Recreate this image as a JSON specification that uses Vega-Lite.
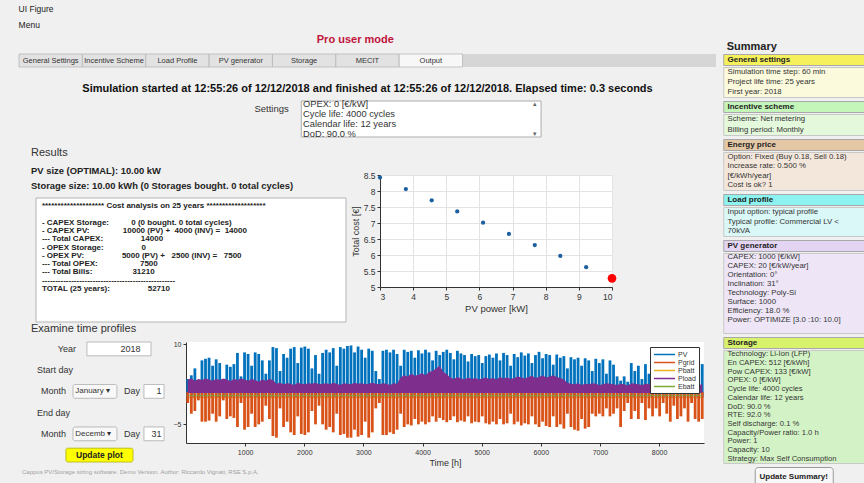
{
  "$schema": "https://vega.github.io/schema/vega-lite/v6.json",
  "padding": {"left": 18, "top": 4, "right": 0, "bottom": 0},
  "background": "#f0f0f0",
  "title": {"text": "UI Figure", "subtitle": "Menu", "anchor": "start", "fontSize": 8.5, "fontWeight": "normal", "subtitleFontSize": 8.5, "subtitlePadding": 8, "color": "#222", "subtitleColor": "#222", "offset": 4},
  "config": {
    "font": "Liberation Sans",
    "view": {"stroke": null},
    "axis": {"labelFontSize": 7.5, "titleFontSize": 9, "titleFontWeight": "normal", "labelColor": "#333", "titleColor": "#333", "domainColor": "#333", "tickColor": "#333", "gridColor": "#e3e3e3", "tickSize": 3, "labelPadding": 2, "titlePadding": 3}
  },
  "resolve": {"scale": {"color": "independent"}, "legend": {"color": "independent"}},
  "datasets": {
    "ts": [
      {"t":30,"pv":3.5,"g":-1.0,"l":3.4},{"t":90,"pv":4.2,"g":-3.0,"l":3.6},{"t":150,"pv":5.5,"g":-2.5,"l":3.2},{"t":210,"pv":3.0,"g":-0.5,"l":3.5},
      {"t":270,"pv":7.0,"g":-4.5,"l":3.3},{"t":330,"pv":7.3,"g":-4.5,"l":3.6},{"t":390,"pv":7.5,"g":-4.3,"l":3.4},{"t":450,"pv":6.0,"g":-3.0,"l":3.2},
      {"t":510,"pv":7.2,"g":-4.5,"l":3.5},{"t":570,"pv":6.5,"g":-3.5,"l":3.3},{"t":630,"pv":3.5,"g":-0.5,"l":3.6},{"t":690,"pv":6.2,"g":-4.0,"l":3.4},
      {"t":750,"pv":5.8,"g":-3.5,"l":3.1},{"t":810,"pv":6.3,"g":-3.8,"l":3.5},{"t":870,"pv":8.4,"g":-5.5,"l":3.3},{"t":930,"pv":4.0,"g":-1.0,"l":3.6},
      {"t":990,"pv":8.5,"g":-6.0,"l":3.4},{"t":1050,"pv":8.2,"g":-5.5,"l":3.2},{"t":1110,"pv":6.0,"g":-3.0,"l":3.5},{"t":1170,"pv":8.5,"g":-5.5,"l":3.3},
      {"t":1230,"pv":8.2,"g":-5.0,"l":3.0},{"t":1290,"pv":7.0,"g":-4.5,"l":3.4},{"t":1350,"pv":4.5,"g":-1.5,"l":3.2},{"t":1410,"pv":7.0,"g":-4.0,"l":3.5},
      {"t":1470,"pv":9.5,"g":-7.2,"l":3.3},{"t":1530,"pv":9.3,"g":-7.5,"l":2.6},{"t":1590,"pv":5.0,"g":-2.0,"l":2.8},{"t":1650,"pv":8.2,"g":-5.5,"l":2.5},
      {"t":1710,"pv":7.5,"g":-4.5,"l":2.7},{"t":1770,"pv":9.2,"g":-6.5,"l":2.6},{"t":1830,"pv":9.5,"g":-7.0,"l":2.4},{"t":1890,"pv":6.5,"g":-3.5,"l":2.8},
      {"t":1950,"pv":9.4,"g":-6.8,"l":2.6},{"t":2010,"pv":9.6,"g":-7.0,"l":2.5},{"t":2070,"pv":9.2,"g":-6.5,"l":2.7},{"t":2130,"pv":5.5,"g":-2.5,"l":2.6},
      {"t":2190,"pv":8.0,"g":-5.0,"l":2.8},{"t":2250,"pv":4.5,"g":-1.5,"l":2.5},{"t":2310,"pv":8.4,"g":-5.0,"l":2.6},{"t":2370,"pv":9.0,"g":-6.0,"l":2.7},
      {"t":2430,"pv":8.5,"g":-5.5,"l":2.5},{"t":2490,"pv":9.3,"g":-6.5,"l":2.8},{"t":2550,"pv":6.0,"g":-3.0,"l":2.6},{"t":2610,"pv":9.5,"g":-7.0,"l":2.4},
      {"t":2670,"pv":9.2,"g":-6.8,"l":2.7},{"t":2730,"pv":9.7,"g":-7.5,"l":2.6},{"t":2790,"pv":9.8,"g":-7.5,"l":2.5},{"t":2850,"pv":8.5,"g":-6.0,"l":2.8},
      {"t":2910,"pv":9.6,"g":-7.3,"l":2.6},{"t":2970,"pv":9.0,"g":-7.0,"l":2.7},{"t":3030,"pv":7.5,"g":-4.5,"l":2.5},{"t":3090,"pv":9.2,"g":-7.5,"l":2.6},
      {"t":3150,"pv":8.8,"g":-6.5,"l":2.8},{"t":3210,"pv":5.0,"g":-2.0,"l":2.6},{"t":3270,"pv":3.5,"g":-1.0,"l":2.5},{"t":3330,"pv":8.8,"g":-7.0,"l":2.7},
      {"t":3390,"pv":9.0,"g":-7.0,"l":2.6},{"t":3450,"pv":8.5,"g":-6.5,"l":2.4},{"t":3510,"pv":9.0,"g":-6.8,"l":2.7},{"t":3570,"pv":8.2,"g":-6.0,"l":2.6},
      {"t":3630,"pv":6.0,"g":-3.0,"l":3.8},{"t":3690,"pv":9.0,"g":-5.5,"l":4.2},{"t":3750,"pv":8.6,"g":-5.0,"l":4.0},{"t":3810,"pv":8.8,"g":-5.2,"l":4.5},
      {"t":3870,"pv":7.5,"g":-4.0,"l":4.1},{"t":3930,"pv":8.9,"g":-5.0,"l":4.3},{"t":3990,"pv":8.3,"g":-4.5,"l":4.6},{"t":4050,"pv":9.0,"g":-5.0,"l":4.2},
      {"t":4110,"pv":8.5,"g":-4.6,"l":4.8},{"t":4170,"pv":7.0,"g":-3.5,"l":5.0},{"t":4230,"pv":8.8,"g":-4.5,"l":5.5},{"t":4290,"pv":8.0,"g":-3.8,"l":6.0},
      {"t":4350,"pv":8.6,"g":-4.2,"l":4.8},{"t":4410,"pv":9.0,"g":-4.6,"l":4.4},{"t":4470,"pv":8.4,"g":-4.2,"l":3.8},{"t":4530,"pv":7.2,"g":-3.5,"l":3.5},
      {"t":4590,"pv":8.8,"g":-4.6,"l":3.9},{"t":4650,"pv":8.3,"g":-4.3,"l":3.6},{"t":4710,"pv":8.0,"g":-4.5,"l":3.4},{"t":4770,"pv":6.8,"g":-3.5,"l":3.8},
      {"t":4830,"pv":8.2,"g":-4.8,"l":3.5},{"t":4890,"pv":7.8,"g":-4.5,"l":3.7},{"t":4950,"pv":8.0,"g":-4.6,"l":3.4},{"t":5010,"pv":6.5,"g":-3.5,"l":3.6},
      {"t":5070,"pv":7.8,"g":-4.8,"l":3.8},{"t":5130,"pv":8.1,"g":-5.0,"l":3.5},{"t":5190,"pv":7.5,"g":-4.5,"l":3.7},{"t":5250,"pv":8.3,"g":-5.0,"l":3.4},
      {"t":5310,"pv":7.0,"g":-4.0,"l":3.9},{"t":5370,"pv":8.4,"g":-5.0,"l":3.6},{"t":5430,"pv":8.0,"g":-4.8,"l":3.8},{"t":5490,"pv":6.0,"g":-3.0,"l":3.5},
      {"t":5550,"pv":8.2,"g":-5.0,"l":3.7},{"t":5610,"pv":7.6,"g":-4.5,"l":4.0},{"t":5670,"pv":8.5,"g":-5.2,"l":3.8},{"t":5730,"pv":7.9,"g":-4.8,"l":3.6},
      {"t":5790,"pv":8.3,"g":-5.0,"l":3.9},{"t":5850,"pv":6.5,"g":-3.5,"l":4.1},{"t":5910,"pv":8.0,"g":-5.0,"l":3.7},{"t":5970,"pv":8.6,"g":-5.5,"l":3.9},
      {"t":6030,"pv":7.4,"g":-4.5,"l":4.2},{"t":6090,"pv":8.2,"g":-5.3,"l":3.8},{"t":6150,"pv":8.0,"g":-5.5,"l":4.0},{"t":6210,"pv":6.2,"g":-3.5,"l":4.2},
      {"t":6270,"pv":8.1,"g":-5.5,"l":3.9},{"t":6330,"pv":7.5,"g":-5.0,"l":3.7},{"t":6390,"pv":7.8,"g":-5.8,"l":3.4},{"t":6450,"pv":5.5,"g":-3.0,"l":2.8},
      {"t":6510,"pv":7.6,"g":-5.5,"l":2.6},{"t":6570,"pv":7.2,"g":-6.0,"l":2.5},{"t":6630,"pv":7.5,"g":-6.2,"l":2.7},{"t":6690,"pv":6.0,"g":-4.0,"l":2.4},
      {"t":6750,"pv":7.4,"g":-5.8,"l":2.6},{"t":6810,"pv":7.0,"g":-5.5,"l":2.5},{"t":6870,"pv":5.0,"g":-3.0,"l":2.7},{"t":6930,"pv":7.3,"g":-3.5,"l":2.6},
      {"t":6990,"pv":6.5,"g":-3.0,"l":2.4},{"t":7050,"pv":7.2,"g":-3.5,"l":2.5},{"t":7110,"pv":4.5,"g":-2.0,"l":2.7},{"t":7170,"pv":7.0,"g":-3.5,"l":2.6},
      {"t":7230,"pv":6.2,"g":-3.0,"l":2.5},{"t":7290,"pv":4.0,"g":-2.0,"l":2.4},{"t":7350,"pv":3.2,"g":-5.5,"l":2.6},{"t":7410,"pv":4.0,"g":-2.5,"l":2.5},
      {"t":7470,"pv":3.0,"g":-1.0,"l":2.3},{"t":7530,"pv":6.5,"g":-4.0,"l":2.7},{"t":7590,"pv":5.0,"g":-2.5,"l":2.6},{"t":7650,"pv":6.0,"g":-4.0,"l":2.5},
      {"t":7710,"pv":3.5,"g":-1.0,"l":2.4},{"t":7770,"pv":6.3,"g":-4.2,"l":2.6},{"t":7830,"pv":4.5,"g":-2.0,"l":2.5},{"t":7890,"pv":5.2,"g":-3.5,"l":2.7},
      {"t":7950,"pv":4.0,"g":-2.0,"l":2.4},{"t":8010,"pv":5.0,"g":-3.5,"l":2.6},{"t":8070,"pv":3.2,"g":-1.0,"l":2.5},{"t":8130,"pv":4.8,"g":-3.0,"l":2.3},
      {"t":8190,"pv":6.5,"g":-4.5,"l":2.6},{"t":8250,"pv":3.8,"g":-1.5,"l":2.5},{"t":8310,"pv":6.0,"g":-4.0,"l":2.7},{"t":8370,"pv":5.5,"g":-3.5,"l":2.4},
      {"t":8430,"pv":4.2,"g":-2.0,"l":2.6},{"t":8490,"pv":6.5,"g":-4.5,"l":2.5},{"t":8550,"pv":3.0,"g":-1.0,"l":2.7},{"t":8610,"pv":5.8,"g":-4.0,"l":2.6},
      {"t":8670,"pv":6.8,"g":-4.5,"l":2.4},{"t":8730,"pv":6.3,"g":-4.0,"l":2.5}
    ],
    "summary": [
      {"i":0,"t":"General settings","sec":"gen","head":true},
      {"i":1,"t":"Simulation time step: 60 min","sec":"gen","head":false},
      {"i":2,"t":"Project life time: 25 years","sec":"gen","head":false},
      {"i":3,"t":"First year: 2018","sec":"gen","head":false},
      {"i":4,"t":"Incentive scheme","sec":"inc","head":true},
      {"i":5,"t":"Scheme: Net metering","sec":"inc","head":false},
      {"i":6,"t":"Billing period: Monthly","sec":"inc","head":false},
      {"i":7,"t":"Energy price","sec":"ene","head":true},
      {"i":8,"t":"Option: Fixed (Buy 0.18, Sell 0.18)","sec":"ene","head":false},
      {"i":9,"t":"Increase rate: 0.500 %","sec":"ene","head":false},
      {"i":10,"t":"[€/kWh/year]","sec":"ene","head":false},
      {"i":11,"t":"Cost is ok? 1","sec":"ene","head":false},
      {"i":12,"t":"Load profile","sec":"load","head":true},
      {"i":13,"t":"Input option: typical profile","sec":"load","head":false},
      {"i":14,"t":"Typical profile: Commercial LV <","sec":"load","head":false},
      {"i":15,"t":"70kVA","sec":"load","head":false},
      {"i":16,"t":"PV generator","sec":"pv","head":true},
      {"i":17,"t":"CAPEX: 1000 [€/kW]","sec":"pv","head":false},
      {"i":18,"t":"CAPEX: 20 [€/kW/year]","sec":"pv","head":false},
      {"i":19,"t":"Orientation: 0°","sec":"pv","head":false},
      {"i":20,"t":"Inclination: 31°","sec":"pv","head":false},
      {"i":21,"t":"Technology: Poly-Si","sec":"pv","head":false},
      {"i":22,"t":"Surface: 1000","sec":"pv","head":false},
      {"i":23,"t":"Efficiency: 18.0 %","sec":"pv","head":false},
      {"i":24,"t":"Power: OPTIMIZE [3.0 :10: 10.0]","sec":"pv","head":false},
      {"i":25,"t":"","sec":"pv","head":false},
      {"i":26,"t":"Storage","sec":"sto","head":true},
      {"i":27,"t":"Technology: Li-Ion (LFP)","sec":"sto","head":false},
      {"i":28,"t":"En CAPEX: 512 [€/kWh]","sec":"sto","head":false},
      {"i":29,"t":"Pow CAPEX: 133 [€/kW]","sec":"sto","head":false},
      {"i":30,"t":"OPEX: 0 [€/kW]","sec":"sto","head":false},
      {"i":31,"t":"Cycle life: 4000 cycles","sec":"sto","head":false},
      {"i":32,"t":"Calendar life: 12 years","sec":"sto","head":false},
      {"i":33,"t":"DoD: 90.0 %","sec":"sto","head":false},
      {"i":34,"t":"RTE: 92.0 %","sec":"sto","head":false},
      {"i":35,"t":"Self discharge: 0.1 %","sec":"sto","head":false},
      {"i":36,"t":"Capacity/Power ratio: 1.0 h","sec":"sto","head":false},
      {"i":37,"t":"Power: 1","sec":"sto","head":false},
      {"i":38,"t":"Capacity: 10","sec":"sto","head":false},
      {"i":39,"t":"Strategy: Max Self Consumption","sec":"sto","head":false}
    ]
  },
  "spacing": 6,
  "hconcat": [
    {
      "title": {"text": "Pro user mode", "color": "#c0143c", "fontSize": 11, "fontWeight": "bold", "anchor": "middle", "offset": 9, "dx": -12},
      "spacing": 15,
      "resolve": {"scale": {"color": "independent"}, "legend": {"color": "independent"}},
      "vconcat": [
        {
          "width": 697, "height": 13,
          "view": {"fill": "#d6d6d6"},
          "data": {"values": [{"tab":"General Settings"},{"tab":"Incentive Scheme"},{"tab":"Load Profile"},{"tab":"PV generator"},{"tab":"Storage"},{"tab":"MECIT"},{"tab":"Output"}]},
          "encoding": {
            "x": {"field": "tab", "type": "ordinal", "sort": null, "scale": {"domain": ["General Settings","Incentive Scheme","Load Profile","PV generator","Storage","MECIT","Output","_a","_b","_c","_d"], "paddingInner": 0, "paddingOuter": 0}, "axis": null}
          },
          "layer": [
            {"mark": {"type": "rect", "stroke": "#b8b8b8", "strokeWidth": 0.8},
             "encoding": {"color": {"condition": {"test": "datum.tab === 'Output'", "value": "#f7f7f7"}, "value": "#e2e2e2"}}},
            {"mark": {"type": "text", "fontSize": 7.5, "color": "#333"}, "encoding": {"text": {"field": "tab"}}}
          ]
        },
        {
          "title": {"text": "Simulation started at 12:55:26 of 12/12/2018 and finished at 12:55:26 of 12/12/2018. Elapsed time: 0.3 seconds", "fontSize": 11, "fontWeight": "bold", "color": "#111", "anchor": "middle", "offset": 6},
          "spacing": 7,
          "resolve": {"scale": {"color": "independent"}, "legend": {"color": "independent"}},
          "vconcat": [
            {
              "width": 697, "height": 36,
              "layer": [
                {"data": {"values": [{}]},
                 "mark": {"type": "rect", "fill": "white", "stroke": "#adadad", "strokeWidth": 1},
                 "encoding": {"x": {"datum": 0.405, "type": "quantitative", "scale": {"domain": [0, 1], "nice": false, "zero": false}, "axis": null}, "x2": {"datum": 0.749}}},
                {"data": {"values": [{"i":0,"t":"OPEX: 0 [€/kW]"},{"i":1,"t":"Cycle life: 4000 cycles"},{"i":2,"t":"Calendar life: 12 years"},{"i":3,"t":"DoD: 90.0 %"}]},
                 "mark": {"type": "text", "align": "left", "baseline": "middle", "fontSize": 9.3, "color": "#333"},
                 "encoding": {"x": {"datum": 0.4075, "type": "quantitative"}, "y": {"field": "i", "type": "ordinal", "scale": {"padding": 0.3}, "axis": null}, "text": {"field": "t"}}},
                {"data": {"values": [{"i":0,"t":"▴"},{"i":3,"t":"▾"}]},
                 "mark": {"type": "text", "align": "center", "baseline": "middle", "fontSize": 7, "color": "#666"},
                 "encoding": {"x": {"datum": 0.741, "type": "quantitative"}, "y": {"field": "i", "type": "ordinal", "axis": null}, "text": {"field": "t"}}},
                {"data": {"values": [{"i":1,"t":"Settings"}]},
                 "mark": {"type": "text", "align": "right", "baseline": "bottom", "fontSize": 9.5, "color": "#333"},
                 "encoding": {"x": {"datum": 0.387, "type": "quantitative"}, "y": {"field": "i", "type": "ordinal", "axis": null}, "text": {"field": "t"}}}
              ]
            },
            {
              "spacing": 0,
              "resolve": {"scale": {"color": "independent"}, "legend": {"color": "independent"}},
              "vconcat": [
                {
                  "title": {"text": "Results", "anchor": "start", "fontSize": 11, "fontWeight": "normal", "color": "#333", "offset": 5, "dx": 12},
                  "spacing": 4,
                  "hconcat": [
                    {
                      "spacing": 4,
                      "vconcat": [
                        {
                          "width": 327, "height": 30,
                          "data": {"values": [{"i":0,"t":"PV size (OPTIMAL): 10.00 kW"},{"i":1,"t":"Storage size: 10.00 kWh (0 Storages bought. 0 total cycles)"}]},
                          "mark": {"type": "text", "align": "left", "baseline": "middle", "fontSize": 9.4, "fontWeight": "bold", "color": "#222"},
                          "encoding": {"x": {"datum": 0.037, "type": "quantitative", "scale": {"domain": [0, 1]}, "axis": null}, "y": {"field": "i", "type": "ordinal", "axis": null}, "text": {"field": "t"}}
                        },
                        {
                          "width": 327, "height": 124,
                          "layer": [
                            {"data": {"values": [{}]},
                             "mark": {"type": "rect", "fill": "white", "stroke": "#b4b4b4", "strokeWidth": 1},
                             "encoding": {"x": {"datum": 0.052, "type": "quantitative", "scale": {"domain": [0, 1], "nice": false, "zero": false}, "axis": null}, "x2": {"datum": 1}}},
                            {"data": {"values": [
                              {"i":0,"t":"******************** Cost analysis on 25 years *******************"},
                              {"i":2,"t":"- CAPEX Storage:\u00a0\u00a0\u00a0\u00a0\u00a0\u00a0\u00a0\u00a0\u00a0\u00a00 (0 bought. 0 total cycles)"},
                              {"i":3,"t":"- CAPEX PV:\u00a0\u00a0\u00a0\u00a0\u00a0\u00a0\u00a0\u00a0\u00a0\u00a0\u00a0\u00a0\u00a0\u00a0\u00a010000 (PV) +\u00a0\u00a04000 (INV) =\u00a0\u00a014000"},
                              {"i":4,"t":"--- Total CAPEX:\u00a0\u00a0\u00a0\u00a0\u00a0\u00a0\u00a0\u00a0\u00a0\u00a0\u00a0\u00a0\u00a0\u00a0\u00a0\u00a0\u00a014000"},
                              {"i":5,"t":"- OPEX Storage:\u00a0\u00a0\u00a0\u00a0\u00a0\u00a0\u00a0\u00a0\u00a0\u00a0\u00a0\u00a0\u00a0\u00a0\u00a0\u00a0\u00a00"},
                              {"i":6,"t":"- OPEX PV:\u00a0\u00a0\u00a0\u00a0\u00a0\u00a0\u00a0\u00a0\u00a0\u00a0\u00a0\u00a0\u00a0\u00a0\u00a0\u00a0\u00a05000 (PV) +\u00a0\u00a0\u00a02500 (INV) =\u00a0\u00a0\u00a07500"},
                              {"i":7,"t":"--- Total OPEX:\u00a0\u00a0\u00a0\u00a0\u00a0\u00a0\u00a0\u00a0\u00a0\u00a0\u00a0\u00a0\u00a0\u00a0\u00a0\u00a0\u00a0\u00a0\u00a07500"},
                              {"i":8,"t":"--- Total Bills:\u00a0\u00a0\u00a0\u00a0\u00a0\u00a0\u00a0\u00a0\u00a0\u00a0\u00a0\u00a0\u00a0\u00a0\u00a0\u00a0\u00a0\u00a031210"},
                              {"i":9,"t":"--------------------------------------------------"},
                              {"i":10,"t":"TOTAL (25 years):\u00a0\u00a0\u00a0\u00a0\u00a0\u00a0\u00a0\u00a0\u00a0\u00a0\u00a0\u00a0\u00a0\u00a0\u00a0\u00a0\u00a052710"}
                            ]},
                             "mark": {"type": "text", "align": "left", "baseline": "middle", "fontSize": 8, "fontWeight": "bold", "color": "#222"},
                             "encoding": {"x": {"datum": 0.07, "type": "quantitative"}, "y": {"field": "i", "type": "ordinal", "scale": {"domain": [0,1,2,3,4,5,6,7,8,9,10,11,12,13], "padding": 1}, "axis": null}, "text": {"field": "t"}}}
                          ]
                        }
                      ]
                    },
                    {
                      "spacing": 4,
                      "vconcat": [
                        {"width": 10, "height": 4, "data": {"values": []}, "mark": {"type": "text"}, "encoding": {"text": {"field": "t"}}},
                        {
                          "width": 232, "height": 112,
                          "view": {"fill": "white"},
                          "encoding": {
                            "x": {"field": "pv", "type": "quantitative", "scale": {"domain": [3, 10], "nice": false, "zero": false}, "axis": {"title": "PV power [kW]", "values": [3,4,5,6,7,8,9,10], "grid": true, "labelFontSize": 8.5, "titleFontSize": 9.5}},
                            "y": {"field": "c", "type": "quantitative", "scale": {"domain": [50000, 85000], "nice": false, "zero": false}, "axis": {"title": "Total cost [€]", "values": [50000,55000,60000,65000,70000,75000,80000,85000], "labelExpr": "format(datum.value/10000, '~g')", "grid": true, "labelFontSize": 8.5, "titleFontSize": 9}}
                          },
                          "layer": [
                            {"data": {"values": [
                              {"pv":3,"c":84200,"optimal":false},{"pv":3.78,"c":80600,"optimal":false},{"pv":4.56,"c":77100,"optimal":false},
                              {"pv":5.33,"c":73600,"optimal":false},{"pv":6.11,"c":70100,"optimal":false},{"pv":6.89,"c":66600,"optimal":false},
                              {"pv":7.67,"c":63100,"optimal":false},{"pv":8.44,"c":59700,"optimal":false},{"pv":9.22,"c":56200,"optimal":false},
                              {"pv":10,"c":52710,"optimal":true}
                            ]},
                             "layer": [
                               {"transform": [{"filter": "!datum.optimal"}], "mark": {"type": "circle", "size": 18, "color": "#1c5f9f", "opacity": 1}},
                               {"transform": [{"filter": "datum.optimal"}], "mark": {"type": "circle", "size": 75, "color": "#ff0000", "opacity": 1}}
                             ]},
                            {"data": {"values": [{"t": "×10⁴"}]},
                             "mark": {"type": "text", "align": "left", "baseline": "bottom", "fontSize": 7, "color": "#333", "dy": -1},
                             "encoding": {"x": {"datum": 3, "type": "quantitative"}, "y": {"datum": 85000, "type": "quantitative"}, "text": {"field": "t"}}}
                          ]
                        }
                      ]
                    }
                  ]
                },
                {
                  "title": {"text": "Examine time profiles", "anchor": "start", "fontSize": 11, "fontWeight": "normal", "color": "#333", "offset": 6, "dx": 12},
                  "spacing": 4,
                  "resolve": {"scale": {"color": "independent"}, "legend": {"color": "independent"}},
                  "hconcat": [
                    {
                      "width": 150, "height": 120,
                      "data": {"values": [
                        {"i":0,"label":"Year","value":"2018","kind":"year"},
                        {"i":1,"label":"Start day","kind":"head"},
                        {"i":2,"label":"Month","value":"January ▾","daylabel":"Day","day":"1","kind":"date"},
                        {"i":3,"label":"End day","kind":"head"},
                        {"i":4,"label":"Month","value":"Decemb ▾","daylabel":"Day","day":"31","kind":"date"},
                        {"i":5,"label":"Update plot","kind":"button"}
                      ]},
                      "encoding": {
                        "y": {"field": "i", "type": "ordinal", "scale": {"paddingInner": 0.35, "paddingOuter": 0}, "axis": null}
                      },
                      "layer": [
                        {"transform": [{"filter": "datum.kind === 'year'"}],
                         "mark": {"type": "rect", "fill": "white", "stroke": "#acacac", "strokeWidth": 0.8},
                         "encoding": {"x": {"datum": 0.453, "type": "quantitative", "scale": {"domain": [0, 1], "nice": false, "zero": false}, "axis": null}, "x2": {"datum": 0.88}}},
                        {"transform": [{"filter": "datum.kind === 'date'"}],
                         "mark": {"type": "rect", "fill": "#f8f8f8", "stroke": "#acacac", "strokeWidth": 0.8, "cornerRadius": 2},
                         "encoding": {"x": {"datum": 0.36, "type": "quantitative"}, "x2": {"datum": 0.653}}},
                        {"transform": [{"filter": "datum.kind === 'date'"}],
                         "mark": {"type": "rect", "fill": "white", "stroke": "#acacac", "strokeWidth": 0.8},
                         "encoding": {"x": {"datum": 0.833, "type": "quantitative"}, "x2": {"datum": 0.967}}},
                        {"transform": [{"filter": "datum.kind === 'button'"}],
                         "mark": {"type": "rect", "fill": "#ffff00", "stroke": "#b0b000", "strokeWidth": 0.8, "cornerRadius": 2},
                         "encoding": {"x": {"datum": 0.313, "type": "quantitative"}, "x2": {"datum": 0.76}}},
                        {"transform": [{"filter": "datum.kind === 'year'"}],
                         "mark": {"type": "text", "align": "right", "baseline": "middle", "fontSize": 9, "color": "#333"},
                         "encoding": {"x": {"datum": 0.38, "type": "quantitative"}, "text": {"field": "label"}}},
                        {"transform": [{"filter": "datum.kind === 'year'"}],
                         "mark": {"type": "text", "align": "right", "baseline": "middle", "fontSize": 9, "color": "#333"},
                         "encoding": {"x": {"datum": 0.81, "type": "quantitative"}, "text": {"field": "value"}}},
                        {"transform": [{"filter": "datum.kind === 'head'"}],
                         "mark": {"type": "text", "align": "left", "baseline": "middle", "fontSize": 9, "color": "#333"},
                         "encoding": {"x": {"datum": 0.12, "type": "quantitative"}, "text": {"field": "label"}}},
                        {"transform": [{"filter": "datum.kind === 'date'"}],
                         "mark": {"type": "text", "align": "left", "baseline": "middle", "fontSize": 9, "color": "#333"},
                         "encoding": {"x": {"datum": 0.147, "type": "quantitative"}, "text": {"field": "label"}}},
                        {"transform": [{"filter": "datum.kind === 'date'"}],
                         "mark": {"type": "text", "align": "left", "baseline": "middle", "fontSize": 8, "color": "#333"},
                         "encoding": {"x": {"datum": 0.375, "type": "quantitative"}, "text": {"field": "value"}}},
                        {"transform": [{"filter": "datum.kind === 'date'"}],
                         "mark": {"type": "text", "align": "left", "baseline": "middle", "fontSize": 9, "color": "#333"},
                         "encoding": {"x": {"datum": 0.70, "type": "quantitative"}, "text": {"field": "daylabel"}}},
                        {"transform": [{"filter": "datum.kind === 'date'"}],
                         "mark": {"type": "text", "align": "right", "baseline": "middle", "fontSize": 9, "color": "#333"},
                         "encoding": {"x": {"datum": 0.95, "type": "quantitative"}, "text": {"field": "day"}}},
                        {"transform": [{"filter": "datum.kind === 'button'"}],
                         "mark": {"type": "text", "align": "center", "baseline": "middle", "fontSize": 8.5, "fontWeight": "bold", "color": "#222"},
                         "encoding": {"x": {"datum": 0.536, "type": "quantitative"}, "text": {"field": "label"}}}
                      ]
                    },
                    {
                      "width": 518, "height": 101,
                      "view": {"fill": "white"},
                      "data": {"name": "ts"},
                      "layer": [
                        {"mark": {"type": "rule", "strokeWidth": 2.8},
                         "encoding": {
                           "x": {"field": "t", "type": "quantitative", "scale": {"domain": [0, 8760], "nice": false, "zero": false}, "axis": {"values": [1000,2000,3000,4000,5000,6000,7000,8000], "format": "d", "title": "Time [h]", "grid": false, "labelFontSize": 7}},
                           "y": {"field": "pv", "type": "quantitative", "scale": {"domain": [-8.5, 10.45], "nice": false, "zero": false}, "axis": {"values": [-5,0,5,10], "title": null, "grid": false, "labelFontSize": 7}},
                           "y2": {"datum": 0},
                           "color": {"datum": "PV", "type": "nominal", "scale": {"domain": ["PV","Pgrid","Pbatt","Pload","Ebatt"], "range": ["#0072BD","#D95319","#EDB120","#7E2F8E","#77AC30"]},
                             "legend": {"orient": "top-right", "title": null, "fillColor": "white", "strokeColor": "#333", "padding": 3, "offset": 5, "symbolType": "M-1,0H5", "symbolStrokeWidth": 1.5, "symbolSize": 49, "labelFontSize": 7, "labelColor": "#333", "rowPadding": 0, "labelOffset": 16}}
                         }},
                        {"mark": {"type": "line", "strokeWidth": 1},
                         "encoding": {"x": {"field": "t", "type": "quantitative"}, "y": {"datum": 0, "type": "quantitative"}, "color": {"datum": "Pbatt", "type": "nominal"}}},
                        {"mark": {"type": "rule", "strokeWidth": 2.8},
                         "encoding": {"x": {"field": "t", "type": "quantitative"}, "y": {"field": "g", "type": "quantitative"}, "y2": {"datum": 1.1}, "color": {"datum": "Pgrid", "type": "nominal"}}},
                        {"mark": {"type": "area", "opacity": 1},
                         "encoding": {"x": {"field": "t", "type": "quantitative"}, "y": {"field": "l", "type": "quantitative"}, "y2": {"datum": 0.9}, "color": {"datum": "Pload", "type": "nominal"}}},
                        {"mark": {"type": "line", "strokeWidth": 0.8},
                         "encoding": {"x": {"field": "t", "type": "quantitative"}, "y": {"datum": 0.4, "type": "quantitative"}, "color": {"datum": "Ebatt", "type": "nominal"}}}
                      ]
                    }
                  ]
                },
                {
                  "width": 300, "height": 9,
                  "data": {"values": [{"t": "Cappus PV/Storage sizing software. Demo Version. Author: Riccardo Vignati, RSE S.p.A."}]},
                  "mark": {"type": "text", "align": "left", "baseline": "middle", "fontSize": 6, "color": "#a0a0a0"},
                  "encoding": {
                    "x": {"datum": 0.01, "type": "quantitative", "scale": {"domain": [0, 1]}, "axis": null},
                    "y": {"datum": 0.5, "type": "quantitative", "scale": {"domain": [0, 1]}, "axis": null},
                    "text": {"field": "t"}
                  }
                }
              ]
            }
          ]
        }
      ]
    },
    {
      "title": {"text": "Summary", "anchor": "start", "fontSize": 11, "fontWeight": "bold", "color": "#222", "offset": 2, "dx": 4},
      "spacing": 2,
      "center": true,
      "vconcat": [
        {"spacing": 0, "vconcat": [
          {"width": 141, "height": 11, "view": {"fill": "#f5f05c", "stroke": "#a8a8a8"}, "data": {"name": "summary"}, "transform": [{"filter": "datum.head && datum.sec === 'gen'"}],
           "mark": {"type": "text", "align": "left", "baseline": "middle", "fontSize": 8, "fontWeight": "bold", "color": "#222"},
           "encoding": {"x": {"datum": 0.03, "type": "quantitative", "scale": {"domain": [0, 1]}, "axis": null}, "y": {"datum": 0.5, "type": "quantitative", "scale": {"domain": [0, 1]}, "axis": null}, "text": {"field": "t"}}},
          {"width": 141, "height": 30, "view": {"fill": "#fcfadc", "stroke": "#c8c8c8"}, "data": {"name": "summary"}, "transform": [{"filter": "!datum.head && datum.sec === 'gen'"}],
           "mark": {"type": "text", "align": "left", "baseline": "middle", "fontSize": 7.8, "color": "#333"},
           "encoding": {"x": {"datum": 0.03, "type": "quantitative", "scale": {"domain": [0, 1]}, "axis": null}, "y": {"field": "i", "type": "ordinal", "axis": null}, "text": {"field": "t"}}}
        ]},
        {"spacing": 0, "vconcat": [
          {"width": 141, "height": 11, "view": {"fill": "#c4f5b9", "stroke": "#a8a8a8"}, "data": {"name": "summary"}, "transform": [{"filter": "datum.head && datum.sec === 'inc'"}],
           "mark": {"type": "text", "align": "left", "baseline": "middle", "fontSize": 8, "fontWeight": "bold", "color": "#222"},
           "encoding": {"x": {"datum": 0.03, "type": "quantitative", "scale": {"domain": [0, 1]}, "axis": null}, "y": {"datum": 0.5, "type": "quantitative", "scale": {"domain": [0, 1]}, "axis": null}, "text": {"field": "t"}}},
          {"width": 141, "height": 21, "view": {"fill": "#e4f8dc", "stroke": "#c8c8c8"}, "data": {"name": "summary"}, "transform": [{"filter": "!datum.head && datum.sec === 'inc'"}],
           "mark": {"type": "text", "align": "left", "baseline": "middle", "fontSize": 7.8, "color": "#333"},
           "encoding": {"x": {"datum": 0.03, "type": "quantitative", "scale": {"domain": [0, 1]}, "axis": null}, "y": {"field": "i", "type": "ordinal", "axis": null}, "text": {"field": "t"}}}
        ]},
        {"spacing": 0, "vconcat": [
          {"width": 141, "height": 11, "view": {"fill": "#e4c8a6", "stroke": "#a8a8a8"}, "data": {"name": "summary"}, "transform": [{"filter": "datum.head && datum.sec === 'ene'"}],
           "mark": {"type": "text", "align": "left", "baseline": "middle", "fontSize": 8, "fontWeight": "bold", "color": "#222"},
           "encoding": {"x": {"datum": 0.03, "type": "quantitative", "scale": {"domain": [0, 1]}, "axis": null}, "y": {"datum": 0.5, "type": "quantitative", "scale": {"domain": [0, 1]}, "axis": null}, "text": {"field": "t"}}},
          {"width": 141, "height": 38, "view": {"fill": "#f3e7db", "stroke": "#c8c8c8"}, "data": {"name": "summary"}, "transform": [{"filter": "!datum.head && datum.sec === 'ene'"}],
           "mark": {"type": "text", "align": "left", "baseline": "middle", "fontSize": 7.8, "color": "#333"},
           "encoding": {"x": {"datum": 0.03, "type": "quantitative", "scale": {"domain": [0, 1]}, "axis": null}, "y": {"field": "i", "type": "ordinal", "axis": null}, "text": {"field": "t"}}}
        ]},
        {"spacing": 0, "vconcat": [
          {"width": 141, "height": 11, "view": {"fill": "#8cf3f0", "stroke": "#a8a8a8"}, "data": {"name": "summary"}, "transform": [{"filter": "datum.head && datum.sec === 'load'"}],
           "mark": {"type": "text", "align": "left", "baseline": "middle", "fontSize": 8, "fontWeight": "bold", "color": "#222"},
           "encoding": {"x": {"datum": 0.03, "type": "quantitative", "scale": {"domain": [0, 1]}, "axis": null}, "y": {"datum": 0.5, "type": "quantitative", "scale": {"domain": [0, 1]}, "axis": null}, "text": {"field": "t"}}},
          {"width": 141, "height": 29, "view": {"fill": "#daf8f7", "stroke": "#c8c8c8"}, "data": {"name": "summary"}, "transform": [{"filter": "!datum.head && datum.sec === 'load'"}],
           "mark": {"type": "text", "align": "left", "baseline": "middle", "fontSize": 7.8, "color": "#333"},
           "encoding": {"x": {"datum": 0.03, "type": "quantitative", "scale": {"domain": [0, 1]}, "axis": null}, "y": {"field": "i", "type": "ordinal", "axis": null}, "text": {"field": "t"}}}
        ]},
        {"spacing": 0, "vconcat": [
          {"width": 141, "height": 11, "view": {"fill": "#e2d4f2", "stroke": "#a8a8a8"}, "data": {"name": "summary"}, "transform": [{"filter": "datum.head && datum.sec === 'pv'"}],
           "mark": {"type": "text", "align": "left", "baseline": "middle", "fontSize": 8, "fontWeight": "bold", "color": "#222"},
           "encoding": {"x": {"datum": 0.03, "type": "quantitative", "scale": {"domain": [0, 1]}, "axis": null}, "y": {"datum": 0.5, "type": "quantitative", "scale": {"domain": [0, 1]}, "axis": null}, "text": {"field": "t"}}},
          {"width": 141, "height": 80, "view": {"fill": "#eee6f7", "stroke": "#c8c8c8"}, "data": {"name": "summary"}, "transform": [{"filter": "!datum.head && datum.sec === 'pv'"}],
           "mark": {"type": "text", "align": "left", "baseline": "middle", "fontSize": 7.8, "color": "#333"},
           "encoding": {"x": {"datum": 0.03, "type": "quantitative", "scale": {"domain": [0, 1]}, "axis": null}, "y": {"field": "i", "type": "ordinal", "axis": null}, "text": {"field": "t"}}}
        ]},
        {"spacing": 0, "vconcat": [
          {"width": 141, "height": 11, "view": {"fill": "#d9f26c", "stroke": "#a8a8a8"}, "data": {"name": "summary"}, "transform": [{"filter": "datum.head && datum.sec === 'sto'"}],
           "mark": {"type": "text", "align": "left", "baseline": "middle", "fontSize": 8, "fontWeight": "bold", "color": "#222"},
           "encoding": {"x": {"datum": 0.03, "type": "quantitative", "scale": {"domain": [0, 1]}, "axis": null}, "y": {"datum": 0.5, "type": "quantitative", "scale": {"domain": [0, 1]}, "axis": null}, "text": {"field": "t"}}},
          {"width": 141, "height": 113, "view": {"fill": "#d3f3c6", "stroke": "#c8c8c8"}, "data": {"name": "summary"}, "transform": [{"filter": "!datum.head && datum.sec === 'sto'"}],
           "mark": {"type": "text", "align": "left", "baseline": "middle", "fontSize": 7.6, "color": "#333"},
           "encoding": {"x": {"datum": 0.03, "type": "quantitative", "scale": {"domain": [0, 1]}, "axis": null}, "y": {"field": "i", "type": "ordinal", "axis": null}, "text": {"field": "t"}}}
        ]},
        {
          "width": 78, "height": 19,
          "view": {"fill": "#f7f7f7", "stroke": "#9a9a9a", "cornerRadius": 3},
          "data": {"values": [{"t": "Update Summary!"}]},
          "mark": {"type": "text", "align": "center", "baseline": "middle", "fontSize": 8, "fontWeight": "bold", "color": "#222"},
          "encoding": {
            "x": {"datum": 0.5, "type": "quantitative", "scale": {"domain": [0, 1]}, "axis": null},
            "y": {"datum": 0.5, "type": "quantitative", "scale": {"domain": [0, 1]}, "axis": null},
            "text": {"field": "t"}
          }
        }
      ]
    }
  ]
}
